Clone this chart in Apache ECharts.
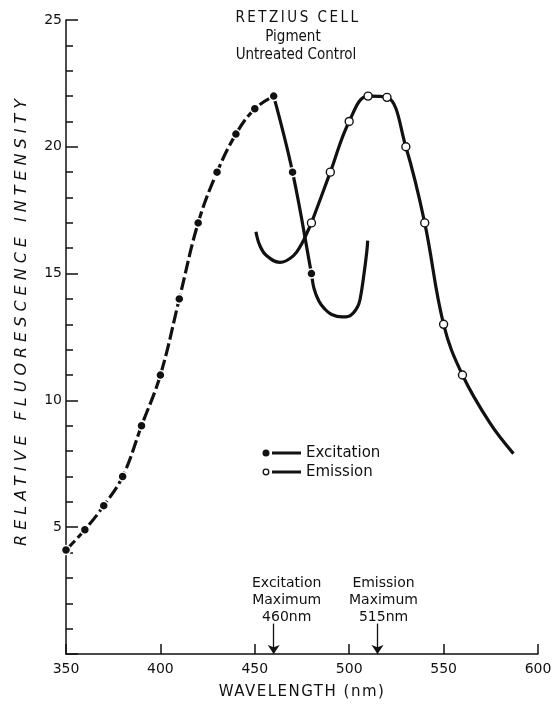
<!DOCTYPE html>
<html><head><meta charset="utf-8">
<script src="https://cdn.jsdelivr.net/npm/echarts@6/dist/echarts.min.js"></script>
<style>html,body{margin:0;padding:0;background:#fff}#c{width:559px;height:707px}</style>
</head><body><div id="c"></div>
<script>
// ---- data ----
const xTicks = [350, 400, 450, 500, 550, 600];
const yTicks = [5, 10, 15, 20, 25];
const excitationRise = [[350,4.1],[360,4.9],[370,5.85],[380,7.0],[390,9.0],[400,11.0],[410,14.0],[420,17.0],[430,19.0],[440,20.5],[450,21.5],[460,22.0]];
const excitationFall = [[460,22.0],[470,19.0],[480,15.0]];
const excitationTail = [[481.3,14.43],[484,13.91],[487.1,13.6],[490.7,13.39],[496.2,13.29],[499.5,13.31],[502.2,13.45],[504.5,13.7],[505.8,14.0],[507.5,14.8],[509.3,15.85],[509.8,16.3]];
const emissionHead = [[450.6,16.65],[452.7,16.1],[456.3,15.7],[463.3,15.44],[470.4,15.7],[474.8,16.17],[478.2,16.7]];
const emissionMarked = [[480,17],[490,19],[500,21],[510,22],[520,21.95],[530,20],[540,17],[550,13],[560,11]];
const emissionTail = [[574.6,9.1],[587,7.9]];
const excitationMax = 460;
const emissionMax = 515;

// letter spacing for a few spaced captions (canvas letterSpacing)
const SPACED = {'RETZIUS CELL': 2.5, 'RELATIVE FLUORESCENCE INTENSITY': 5, 'WAVELENGTH (nm)': 1.5};
(function(){
  const P = CanvasRenderingContext2D.prototype;
  if (!('letterSpacing' in P)) return;
  const f = P.fillText;
  function refont(ctx){ const fn = ctx.font; ctx.font = '10px serif'; ctx.font = fn; }
  P.fillText = function(t){
    const s = SPACED[t];
    if (!s) return f.apply(this, arguments);
    this.save();
    this.letterSpacing = s + 'px';
    refont(this);
    const r = f.apply(this, arguments);
    this.letterSpacing = '0px';
    refont(this);
    this.restore();
    refont(this);
    return r;
  };
})();

const INK = '#111';
const FONT = 'DejaVu Sans';
const noSym = arr => arr.map(p => ({value: p, symbol: 'none'}));

const chart = echarts.init(document.getElementById('c'), null, {renderer: 'canvas'});
chart.setOption({
  animation: false,
  backgroundColor: '#fff',
  grid: {left: 66, right: 21, top: 20, bottom: 53, containLabel: false},
  xAxis: {
    type: 'value', min: xTicks[0], max: xTicks[xTicks.length-1], interval: 50,
    name: 'WAVELENGTH (nm)', nameLocation: 'middle', nameGap: 31,
    nameTextStyle: {color: INK, fontFamily: FONT, fontSize: 15},
    axisLine: {lineStyle: {color: INK, width: 1.5}},
    axisTick: {inside: true, length: 10, lineStyle: {color: INK, width: 1.5}},
    axisLabel: {color: INK, fontFamily: FONT, fontSize: 14, margin: 8},
    splitLine: {show: false}
  },
  yAxis: {
    type: 'value', min: 0, max: yTicks[yTicks.length-1], interval: 5,
    axisLine: {lineStyle: {color: INK, width: 1.5}},
    axisTick: {inside: true, length: 12, lineStyle: {color: INK, width: 1.5}},
    minorTick: {show: true, splitNumber: 5, length: 7, lineStyle: {color: INK, width: 1.5}},
    axisLabel: {color: INK, fontFamily: FONT, fontSize: 14, margin: 4, formatter: v => (yTicks.indexOf(v) >= 0 ? String(v) : '')},
    splitLine: {show: false}, minorSplitLine: {show: false}
  },
  series: [
    {
      name: 'Excitation', type: 'line', smooth: 0.4, data: excitationRise,
      symbol: 'circle', symbolSize: 9,
      itemStyle: {color: INK, borderColor: '#fff', borderWidth: 1.5},
      lineStyle: {color: INK, width: 3.2, type: [13, 4]},
      emphasis: {disabled: true}, z: 3
    },
    {
      name: 'Excitation', type: 'line', smooth: 0.4,
      data: excitationFall.concat(noSym(excitationTail)),
      symbol: 'circle', symbolSize: 9,
      itemStyle: {color: INK, borderColor: '#fff', borderWidth: 1.5},
      lineStyle: {color: INK, width: 3.2},
      emphasis: {disabled: true}, z: 3
    },
    {
      name: 'Emission', type: 'line', smooth: 0.4,
      data: noSym(emissionHead).concat(emissionMarked, noSym(emissionTail)),
      symbol: 'circle', symbolSize: 8,
      itemStyle: {color: '#fff', borderColor: INK, borderWidth: 1.4},
      lineStyle: {color: INK, width: 3.2},
      emphasis: {disabled: true}, z: 4,
      markLine: {
        silent: true, symbol: ['none', 'arrow'], symbolSize: 9,
        lineStyle: {color: INK, width: 1.3, type: 'solid'},
        label: {show: true, position: 'start', color: INK, fontFamily: FONT, fontSize: 14, lineHeight: 17, distance: 1},
        data: [
          [{coord: [excitationMax, 1.2], label: {formatter: 'Excitation\nMaximum\n' + excitationMax + 'nm', offset: [13, 3]}}, {coord: [excitationMax, 0]}],
          [{coord: [emissionMax, 1.2], label: {formatter: 'Emission\nMaximum\n' + emissionMax + 'nm', offset: [6, 3]}}, {coord: [emissionMax, 0]}]
        ]
      }
    }
  ],
  graphic: [
    {type: 'text', x: 22, y: 320, rotation: Math.PI / 2, style: {text: 'RELATIVE FLUORESCENCE INTENSITY', fill: INK, font: 'italic 16px "DejaVu Sans"', textAlign: 'center', textVerticalAlign: 'middle'}},
    {type: 'text', x: 298, y: 18, style: {text: 'RETZIUS CELL', fill: INK, font: '15px "DejaVu Sans Condensed", "DejaVu Sans"', textAlign: 'center', textVerticalAlign: 'middle'}},
    {type: 'text', x: 293, y: 37, style: {text: 'Pigment', fill: INK, font: '15px "DejaVu Sans Condensed", "DejaVu Sans"', textAlign: 'center', textVerticalAlign: 'middle'}},
    {type: 'text', x: 296, y: 55, style: {text: 'Untreated Control', fill: INK, font: '15px "DejaVu Sans Condensed", "DejaVu Sans"', textAlign: 'center', textVerticalAlign: 'middle'}},
    {type: 'circle', shape: {cx: 266, cy: 453, r: 3.5}, style: {fill: INK}},
    {type: 'line', shape: {x1: 272, y1: 453, x2: 301, y2: 453}, style: {stroke: INK, lineWidth: 3}},
    {type: 'text', x: 306, y: 453, style: {text: 'Excitation', fill: INK, font: '15px "DejaVu Sans"', textVerticalAlign: 'middle'}},
    {type: 'circle', shape: {cx: 266, cy: 472, r: 2.8}, style: {fill: '#fff', stroke: INK, lineWidth: 1.3}},
    {type: 'line', shape: {x1: 272, y1: 472, x2: 301, y2: 472}, style: {stroke: INK, lineWidth: 3}},
    {type: 'text', x: 306, y: 472, style: {text: 'Emission', fill: INK, font: '15px "DejaVu Sans"', textVerticalAlign: 'middle'}}
  ]
});
</script>
</body></html>
